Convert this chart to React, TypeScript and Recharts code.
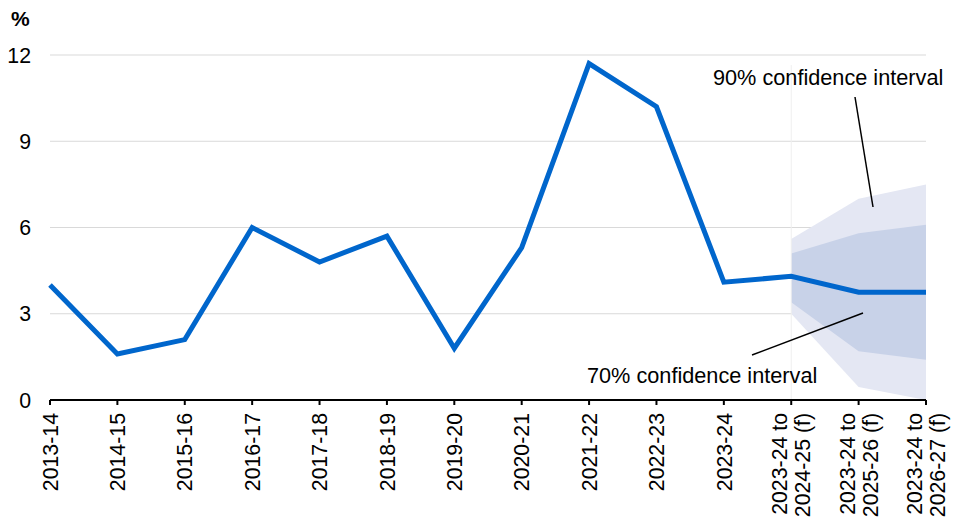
import React from "react";
import {
  ComposedChart,
  Line,
  Area,
  XAxis,
  YAxis,
  CartesianGrid,
  ReferenceLine,
} from "recharts";

const categories = [
  "2013-14",
  "2014-15",
  "2015-16",
  "2016-17",
  "2017-18",
  "2018-19",
  "2019-20",
  "2020-21",
  "2021-22",
  "2022-23",
  "2023-24",
  "2023-24 to 2024-25 (f)",
  "2023-24 to 2025-26 (f)",
  "2023-24 to 2026-27 (f)",
];

const growth = [4.0, 1.6, 2.1, 6.0, 4.8, 5.7, 1.8, 5.3, 11.7, 10.2, 4.1, 4.3, 3.75, 3.75];

const ci90Low: (number | null)[] = [null, null, null, null, null, null, null, null, null, null, null, 3.0, 0.45, 0.0];
const ci90High: (number | null)[] = [null, null, null, null, null, null, null, null, null, null, null, 5.6, 7.0, 7.5];
const ci70Low: (number | null)[] = [null, null, null, null, null, null, null, null, null, null, null, 3.4, 1.7, 1.4];
const ci70High: (number | null)[] = [null, null, null, null, null, null, null, null, null, null, null, 5.1, 5.8, 6.1];

const yTicks = [0, 3, 6, 9, 12];

const data = categories.map((c, i) => ({
  cat: c,
  value: growth[i],
  ci90: ci90Low[i] === null ? null : [ci90Low[i], ci90High[i]],
  ci70: ci70Low[i] === null ? null : [ci70Low[i], ci70High[i]],
}));

const FONT = "'Liberation Sans', Arial, sans-serif";

const XTick = (props: any) => {
  const { x, y, payload } = props;
  const label: string = payload.value;
  const idx = label.indexOf(" to ");
  const lines = idx >= 0 ? [label.slice(0, idx + 3), label.slice(idx + 4)] : [label];
  const spacing = 23;
  const offset0 = -((lines.length - 1) * spacing) / 2;
  return (
    <g transform={`translate(${x},${y + 6})`}>
      {lines.map((ln, i) => (
        <text
          key={i}
          transform="rotate(-90)"
          x={0}
          y={offset0 + i * spacing}
          dy="0.36em"
          textAnchor="end"
          fontSize={21.3}
          fontFamily={FONT}
          fill="#000"
        >
          {ln}
        </text>
      ))}
    </g>
  );
};

export default function App() {
  return (
    <div style={{ position: "absolute", left: 0, top: 0, width: 953, height: 521, background: "#fff" }}>
      <ComposedChart
        width={953}
        height={521}
        data={data}
        margin={{ top: 55, right: 27, bottom: 0, left: 0 }}
      >
        <CartesianGrid vertical={false} stroke="#D9D9D9" strokeWidth={1} />
        <XAxis
          dataKey="cat"
          scale="point"
          interval={0}
          height={121}
          tick={<XTick />}
          tickSize={5}
          axisLine={{ stroke: "#000", strokeWidth: 2 }}
          tickLine={{ stroke: "#000", strokeWidth: 2 }}
        />
        <YAxis
          domain={[0, 12]}
          ticks={yTicks}
          width={50}
          axisLine={false}
          tickLine={false}
          tickSize={0}
          tickMargin={19}
          tick={{ fontSize: 21.3, fontFamily: FONT, fill: "#000" }}
        />
        <ReferenceLine
          segment={[
            { x: categories[11], y: 11.65 },
            { x: categories[11], y: 0 },
          ]}
          stroke="#EFEFEF"
          strokeWidth={1}
        />
        <Area
          dataKey="ci90"
          type="linear"
          stroke="none"
          fill="#E4E7F3"
          fillOpacity={1}
          isAnimationActive={false}
          connectNulls={false}
          dot={false}
          activeDot={false}
        />
        <Area
          dataKey="ci70"
          type="linear"
          stroke="none"
          fill="#C8D2E8"
          fillOpacity={1}
          isAnimationActive={false}
          connectNulls={false}
          dot={false}
          activeDot={false}
        />
        <Line
          dataKey="value"
          type="linear"
          stroke="#0066CC"
          strokeWidth={5}
          dot={false}
          activeDot={false}
          isAnimationActive={false}
        />
      </ComposedChart>
      <svg
        width={953}
        height={521}
        style={{ position: "absolute", left: 0, top: 0, pointerEvents: "none" }}
      >
        <text x={11} y={26} fontSize={21} fontWeight="bold" fontFamily={FONT} fill="#000">
          %
        </text>
        <text x={713} y={85} fontSize={21.7} fontFamily={FONT} fill="#000">
          90% confidence interval
        </text>
        <line x1={855} y1={97} x2={873} y2={207} stroke="#000" strokeWidth={1.5} />
        <text x={587} y={383} fontSize={21.7} fontFamily={FONT} fill="#000">
          70% confidence interval
        </text>
        <line x1={752} y1={355} x2={863} y2={313} stroke="#000" strokeWidth={1.5} />
      </svg>
    </div>
  );
}
